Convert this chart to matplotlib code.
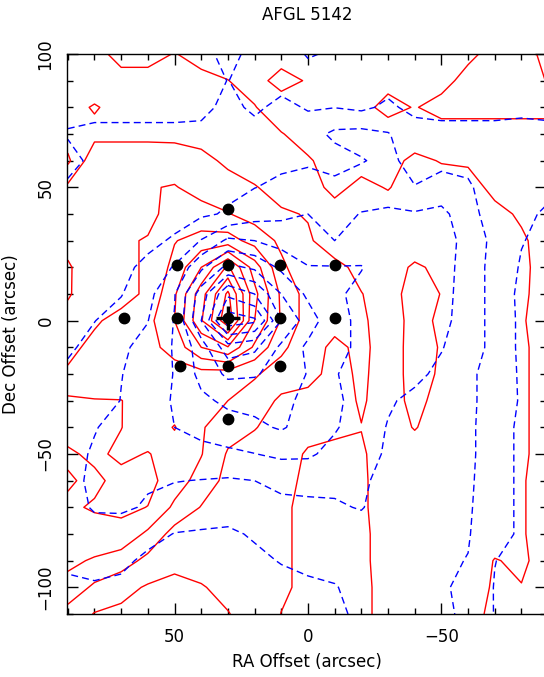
import numpy as np
import matplotlib.pyplot as plt
from matplotlib.ticker import MultipleLocator

# map grid (arcsec offsets), 10" spacing
ra_grid = [90, 80, 70, 60, 50, 40, 30, 20, 10, 0, -10, -20, -30, -40, -50, -60, -70, -80, -90]
dec_grid = [100, 90, 80, 70, 60, 50, 40, 30, 20, 10, 0, -10, -20, -30, -40, -50, -60, -70, -80, -90, -100, -110]

# red wing, integrated intensity in units of the contour step
red_map = np.array([
    [1.5, 1.4, 0.6, 0.6, 1.05, 0.6, 0.5, 0.5, 0.5, 0.5, 0.5, 0.5, 0.5, 0.5, 0.6, 0.8, 1.3, 1.6, 2.3],
    [1.5, 1.3, 1.4, 1.4, 1.4, 1.3, 1.02, 0.6, 1.4, 0.9, 0.6, 0.6, 0.7, 0.7, 0.7, 1.3, 1.4, 1.6, 2.05],
    [1.6, 2.1, 1.6, 1.5, 1.5, 1.1, 1.2, 1.05, 0.4, 0.5, 0.5, 0.7, 1.3, 0.95, 1.3, 1.3, 1.3, 1.3, 1.3],
    [1.5, 1.7, 1.7, 1.7, 1.7, 1.6, 1.5, 1.3, 1.05, 0.6, 0.5, 0.5, 0.5, 0.5, 0.6, 0.6, 0.6, 0.6, 0.6],
    [0.8, 2.7, 2.7, 2.7, 2.6, 2.3, 1.8, 1.6, 1.3, 1.1, 0.6, 0.7, 0.7, 1.2, 0.95, 0.9, 0.6, 0.5, 0.4],
    [2.2, 2.8, 2.9, 2.95, 3.05, 2.7, 2.4, 2.05, 1.7, 1.3, 0.8, 1.2, 0.95, 1.4, 1.4, 1.3, 0.8, 0.6, 0.5],
    [2.4, 2.8, 2.9, 2.8, 3.3, 3.3, 3.05, 2.6, 2.1, 1.95, 1.3, 1.4, 1.4, 1.5, 1.5, 1.4, 1.2, 0.9, 0.6],
    [2.4, 2.7, 2.9, 3.05, 3.95, 4.4, 4.43, 3.6, 2.8, 2.1, 1.6, 1.5, 1.5, 1.6, 1.6, 1.5, 1.4, 1.1, 0.7],
    [1.85, 2.8, 2.8, 3.1, 4.3, 6.0, 8.2, 5.5, 3.2, 2.3, 2.2, 1.8, 1.7, 2.1, 1.85, 1.5, 1.3, 1.1, 0.8],
    [1.85, 2.9, 2.7, 3.15, 4.85, 7.6, 10.2, 6.3, 3.8, 2.6, 2.3, 2.02, 1.7, 2.3, 1.98, 1.5, 1.3, 1.1, 0.75],
    [2.5, 2.9, 3.25, 3.7, 5.0, 7.9, 10.77, 6.0, 3.9, 2.55, 2.3, 2.1, 1.7, 2.2, 1.9, 1.5, 1.3, 1.05, 0.75],
    [2.8, 3.2, 3.4, 3.7, 4.35, 6.0, 6.92, 4.8, 3.2, 2.4, 1.8, 2.2, 1.6, 2.3, 1.95, 1.5, 1.3, 1.1, 0.75],
    [3.1, 3.3, 3.4, 3.5, 3.6, 3.6, 3.5, 3.1, 2.6, 2.3, 1.7, 2.15, 1.6, 2.3, 1.9, 1.5, 1.3, 1.1, 0.75],
    [4.2, 4.05, 4.02, 3.6, 3.5, 3.3, 3.0, 2.6, 1.8, 1.7, 1.6, 2.1, 1.6, 2.25, 1.7, 1.5, 1.3, 1.1, 0.75],
    [4.4, 4.3, 4.02, 3.5, 4.05, 3.1, 2.4, 2.05, 1.6, 1.7, 1.75, 1.98, 1.6, 2.05, 1.6, 1.5, 1.3, 1.1, 0.75],
    [3.85, 4.2, 3.8, 4.05, 3.6, 3.05, 1.9, 1.6, 1.6, 2.1, 2.3, 2.1, 1.6, 1.6, 1.5, 1.4, 1.3, 1.1, 0.75],
    [4.1, 3.8, 4.3, 4.3, 3.5, 2.6, 1.7, 1.6, 1.7, 2.2, 2.3, 2.1, 1.7, 1.6, 1.5, 1.4, 1.3, 1.05, 0.75],
    [3.85, 4.1, 4.2, 3.98, 2.8, 1.95, 1.6, 1.5, 1.8, 2.3, 2.3, 2.1, 1.7, 1.6, 1.5, 1.4, 1.3, 1.05, 0.75],
    [3.5, 3.6, 3.7, 2.8, 1.6, 1.5, 1.5, 1.5, 1.8, 2.3, 2.3, 2.15, 1.7, 1.6, 1.5, 1.4, 1.3, 1.05, 0.75],
    [3.2, 2.9, 2.5, 1.7, 1.2, 1.3, 1.4, 1.5, 1.8, 2.3, 2.3, 2.15, 1.7, 1.6, 1.5, 1.4, 0.97, 1.1, 0.75],
    [2.7, 1.8, 1.3, 0.9, 0.8, 0.95, 1.2, 1.5, 1.8, 2.3, 2.3, 2.2, 1.7, 1.6, 1.5, 1.4, 0.9, 0.98, 0.75],
    [1.6, 0.95, 0.8, 0.7, 0.7, 0.8, 0.97, 1.3, 2.02, 2.3, 2.3, 2.2, 1.7, 1.6, 1.5, 1.3, 0.8, 0.8, 0.75],
])

# blue wing, same units
blue_map = np.array([
    [0.6, 0.6, 0.6, 0.6, 0.6, 0.7, 1.3, 0.7, 0.4, 1.1, 0.85, 0.6, 0.6, 0.6, 0.6, 0.6, 0.6, 0.6, 0.6],
    [0.5, 0.5, 0.5, 0.5, 0.5, 0.6, 1.02, 0.6, 0.6, 0.5, 0.5, 0.5, 0.6, 0.5, 0.5, 0.5, 0.5, 0.5, 0.5],
    [0.6, 0.6, 0.6, 0.6, 0.6, 0.7, 1.3, 0.8, 1.3, 0.9, 0.98, 0.8, 1.2, 0.7, 0.7, 0.7, 0.7, 0.8, 0.7],
    [1.1, 1.3, 1.3, 1.3, 1.3, 1.3, 1.4, 1.4, 1.4, 1.6, 2.2, 2.3, 2.05, 1.5, 1.3, 1.3, 1.3, 1.3, 1.3],
    [0.6, 1.3, 1.4, 1.5, 1.5, 1.6, 1.7, 1.8, 1.8, 1.9, 1.6, 1.95, 2.2, 1.7, 1.8, 1.8, 1.5, 1.4, 1.3],
    [1.2, 1.3, 1.4, 1.5, 1.6, 1.7, 1.8, 1.98, 2.2, 2.3, 2.3, 2.4, 2.4, 2.03, 2.3, 2.1, 1.6, 1.4, 1.3],
    [1.3, 1.4, 1.5, 1.6, 1.7, 1.85, 2.1, 2.6, 2.8, 3.0, 2.6, 3.05, 3.2, 3.1, 3.3, 2.3, 1.6, 1.3, 0.8],
    [1.4, 1.5, 1.6, 1.8, 2.1, 3.05, 4.2, 4.0, 3.6, 3.3, 3.0, 3.3, 3.4, 3.4, 3.4, 2.7, 1.7, 1.05, 0.7],
    [1.5, 1.6, 1.8, 2.2, 3.1, 4.8, 6.3, 5.8, 4.8, 4.05, 4.05, 4.05, 3.4, 3.4, 3.5, 2.5, 1.7, 0.9, 0.6],
    [1.6, 1.7, 1.95, 2.7, 3.95, 6.5, 8.8, 8.0, 6.0, 4.8, 4.2, 3.7, 3.4, 3.3, 3.4, 2.5, 1.7, 0.75, 0.6],
    [1.7, 1.98, 2.4, 2.98, 4.05, 7.0, 10.6, 10.2, 7.0, 5.5, 4.3, 3.8, 3.5, 3.4, 3.3, 2.5, 1.7, 0.8, 0.6],
    [1.85, 2.3, 2.9, 3.2, 4.1, 5.5, 7.6, 7.2, 5.8, 4.8, 4.3, 3.8, 3.5, 3.3, 3.05, 2.5, 1.7, 0.8, 0.6],
    [2.2, 2.5, 2.98, 3.3, 4.05, 5.3, 6.2, 6.1, 5.6, 4.95, 4.05, 3.7, 3.5, 3.2, 2.8, 2.15, 1.7, 0.85, 0.6],
    [2.3, 2.6, 3.02, 3.5, 4.1, 4.8, 5.2, 5.3, 5.1, 4.9, 4.2, 3.6, 3.1, 2.8, 2.6, 2.2, 1.6, 0.9, 0.6],
    [2.6, 2.95, 3.3, 3.6, 4.0, 4.3, 4.6, 4.8, 5.1, 4.6, 4.1, 3.5, 2.95, 2.6, 2.5, 2.2, 1.5, 0.8, 0.6],
    [2.7, 3.1, 3.3, 3.5, 3.6, 3.7, 3.8, 3.98, 4.2, 4.15, 3.7, 3.3, 2.9, 2.5, 2.4, 2.2, 1.5, 0.8, 0.6],
    [2.7, 3.2, 3.3, 3.1, 3.03, 2.97, 2.9, 3.0, 3.2, 3.3, 3.2, 3.1, 2.8, 2.4, 2.3, 2.15, 1.5, 0.8, 0.6],
    [2.6, 3.1, 3.15, 2.9, 2.6, 2.5, 2.4, 2.5, 2.8, 2.8, 2.9, 3.05, 2.6, 2.3, 2.2, 2.1, 1.5, 0.8, 0.6],
    [2.4, 2.6, 2.5, 2.3, 1.97, 1.9, 1.85, 2.1, 2.3, 2.4, 2.5, 2.6, 2.4, 2.2, 2.15, 2.05, 1.5, 0.8, 0.6],
    [2.2, 2.3, 2.2, 1.8, 1.6, 1.6, 1.6, 1.8, 2.05, 2.2, 2.3, 2.4, 2.3, 2.2, 2.1, 1.98, 1.02, 0.7, 0.6],
    [1.8, 1.9, 1.8, 1.6, 1.5, 1.5, 1.5, 1.6, 1.7, 1.85, 1.95, 2.3, 2.2, 2.1, 2.05, 1.9, 0.95, 0.7, 0.6],
    [1.7, 1.7, 1.6, 1.5, 1.5, 1.5, 1.5, 1.5, 1.6, 1.7, 1.8, 2.2, 2.15, 2.1, 2.05, 1.95, 0.95, 0.7, 0.6],
])

red_levels = [1, 2, 3, 4, 5, 6, 7, 8, 9, 10]
blue_levels = [1, 2, 3, 4, 5, 6, 7, 8, 9, 10]

# observed positions
point_ra = [30, 49, 30, 10.5, -10, 69, 49, 30, 10.5, -10, 48, 30, 10.5, 30]
point_dec = [42, 21, 21, 21, 21, 1, 1, 1, 1, 1, -17, -17, -17, -37]

source_ra = 30
source_dec = 1
source_err = 4.5

fig = plt.figure(figsize=(5.44, 6.77), dpi=100)
ax = fig.add_axes([67 / 544, 1 - 614 / 677, (546 - 67) / 544, (614 - 54) / 677])

ax.contour(ra_grid, dec_grid, red_map, levels=red_levels, colors='red',
           linewidths=1.0, linestyles='solid')
ax.contour(ra_grid, dec_grid, blue_map, levels=blue_levels, colors='blue',
           linewidths=1.0, linestyles=[(0, (5, 3))])

ax.plot(point_ra, point_dec, 'o', color='black', markersize=7.5, zorder=5)
ax.errorbar(source_ra, source_dec, xerr=source_err, yerr=source_err, fmt='none',
            ecolor='black', elinewidth=2.5, capsize=0, zorder=6)

ax.set_xlim(90.3, -89.2)
ax.set_ylim(-110, 100)

ax.xaxis.set_major_locator(MultipleLocator(50))
ax.xaxis.set_minor_locator(MultipleLocator(10))
ax.yaxis.set_major_locator(MultipleLocator(50))
ax.yaxis.set_minor_locator(MultipleLocator(10))
ax.tick_params(which='both', direction='in', top=True, right=True, width=1, labelsize=12)
ax.tick_params(which='major', length=8)
ax.tick_params(which='minor', length=4)
ax.tick_params(axis='x', pad=10)
ax.tick_params(axis='y', pad=9)
for lab in ax.get_yticklabels():
    lab.set_rotation(90)
    lab.set_va('center')
for sp in ax.spines.values():
    sp.set_linewidth(1.0)

ax.set_xlabel('RA Offset (arcsec)', fontsize=12, labelpad=5)
ax.set_ylabel('Dec Offset (arcsec)', fontsize=12, labelpad=12)
fig.text(307 / 544, 1 - 15 / 677, 'AFGL 5142', ha='center', va='center', fontsize=12)

fig.savefig('out.png', dpi=100)
